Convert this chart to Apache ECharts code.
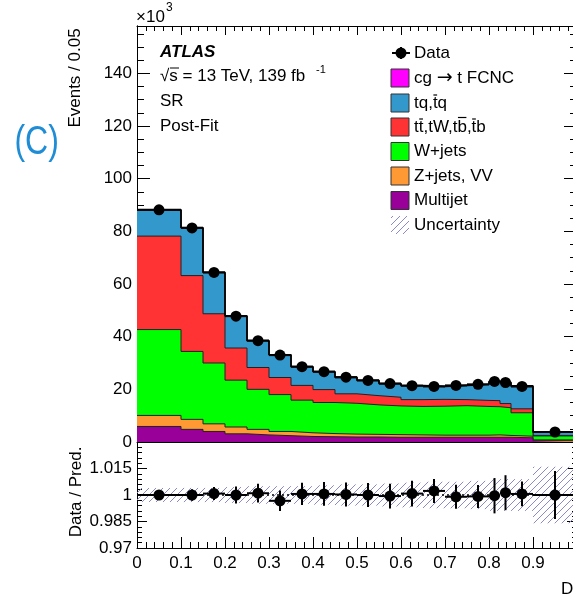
<!DOCTYPE html>
<html><head><meta charset="utf-8">
<script src="https://cdn.jsdelivr.net/npm/echarts@6/dist/echarts.min.js"></script>
<style>html,body{margin:0;padding:0;background:#fff}#c{width:573px;height:603px}</style>
</head><body><div id="c"></div><script>
// ---- data (x10^3 events / 0.05) ----
const binEdges = [0,0.1,0.15,0.2,0.25,0.3,0.35,0.4,0.45,0.5,0.55,0.6,0.65,0.7,0.75,0.8,0.825,0.85,0.9,1.0];
const multijet = [5.9,4.8,4.0,3.1,2.7,2.4,2.1,2.0,1.9,1.9,1.8,1.8,1.8,1.8,1.8,1.8,1.8,1.6,0.5];
const zjetsVV  = [4.2,3.8,2.9,2.6,2.1,1.6,1.4,1.2,1.1,1.0,1.0,0.9,0.8,0.8,0.8,0.9,0.7,0.6,0.3];
const wjets    = [32.6,25.8,23.1,17.8,15.2,14.0,12.4,11.8,11.7,11.2,10.9,10.8,11.0,11.2,10.9,10.7,10.5,8.9,1.5];
const ttbar    = [35.5,28.8,18.7,12.2,8.3,6.5,5.6,4.9,3.6,3.5,3.3,2.6,2.6,2.3,2.3,2.3,1.6,1.5,0.2];
const tqSingle = [10.0,18.2,15.7,12.2,10.2,8.6,7.1,6.8,6.3,5.8,5.2,5.3,4.9,5.4,6.1,7.3,8.0,8.4,1.3];
const fcnc     = [0,0,0,0,0,0,0,0,0,0,0,0,0,0,0,0,0,0.3,0];
const dataVals = [88.2,81.3,64.4,47.8,38.5,33.0,28.6,26.7,24.6,23.4,22.2,21.4,21.1,21.5,21.9,23.0,22.6,21.1,3.8];
const ratioVals = [1.000,1.000,1.0008,1.000,1.001,0.9967,1.0006,1.0006,1.0003,1.000,0.9994,1.0008,1.0023,0.999,0.9992,0.9996,1.0013,1.0006,1.000];
const ratioErr  = [0.0015,0.0033,0.0037,0.0048,0.0053,0.0058,0.0063,0.0067,0.0068,0.0068,0.007,0.0073,0.0068,0.0068,0.0065,0.010,0.0099,0.007,0.0136];
const uncBand   = [0.004,0.004,0.004,0.0045,0.005,0.005,0.005,0.0055,0.006,0.006,0.0065,0.007,0.0075,0.0075,0.008,0.009,0.009,0.009,0.016];
const legendLabels = ['Data','cg {arr|\u2192} t FCNC','tq,tq','tt,tW,tb,tb','W+jets','Z+jets, VV','Multijet','Uncertainty'];

const FONT = '"Liberation Sans", Arial, Helvetica, sans-serif';
const colors = {fcnc:'#ff00ff', tq:'#3399cc', tt:'#ff3333', w:'#00ff00', z:'#ff9933', mj:'#990099'};

// cumulative stack
const nb = dataVals.length;
const cum = [];
let run = new Array(nb).fill(0);
[multijet, zjetsVV, wjets, ttbar, tqSingle, fcnc].forEach(arr => {
  run = run.map((v,i)=>v+arr[i]);
  cum.push(run.slice());
});
function stepPts(tops){
  const pts=[];
  for(let i=0;i<nb;i++){pts.push([binEdges[i],tops[i]]);pts.push([binEdges[i+1],tops[i]]);}
  return pts;
}
const centers = binEdges.slice(0,-1).map((e,i)=>(e+binEdges[i+1])/2);

// hatch pattern
const hatch = document.createElement('canvas');
hatch.width=7;hatch.height=7;
(function(){const c=hatch.getContext('2d');c.strokeStyle='#8a8ac8';c.lineWidth=1;
 c.beginPath();c.moveTo(-1,8);c.lineTo(8,-1);c.moveTo(-1,1);c.lineTo(1,-1);c.moveTo(6,8);c.lineTo(8,6);c.stroke();})();

const chart = echarts.init(document.getElementById('c'), null, {renderer:'canvas'});
const black = {color:'#000', width:1};
function xAx(grid,pos,major,minor,labels){
  return {gridIndex:grid,type:'value',min:0,max:1,interval:0.1,position:pos,
    axisLine:{show:true,onZero:false,lineStyle:black},
    axisTick:{show:true,inside:true,length:major,lineStyle:black},
    minorTick:{show:true,splitNumber:5,length:minor,lineStyle:black},
    splitLine:{show:false},
    axisLabel:{show:labels,fontSize:17,fontFamily:FONT,color:'#000',margin:7,showMaxLabel:false,
      formatter:v=>String(parseFloat(v.toFixed(2)))}};
}
function yMain(pos,interval,len,labels){
  return {gridIndex:0,type:'value',min:0,max:158,interval:interval,position:pos,
    axisLine:{show:true,onZero:false,lineStyle:black},
    axisTick:{show:true,inside:true,length:len,lineStyle:black},
    splitLine:{show:false},
    axisLabel:{show:labels,fontSize:17,fontFamily:FONT,color:'#000',margin:5,showMaxLabel:false}};
}
function yRatio(pos,labels){
  return {gridIndex:1,type:'value',min:0.97,max:1.03,interval:0.015,position:pos,
    axisLine:{show:true,onZero:false,lineStyle:black},
    axisTick:{show:true,inside:true,length:10,lineStyle:black},
    minorTick:{show:true,splitNumber:5,length:5,lineStyle:black},
    splitLine:{show:false},
    axisLabel:{show:labels,fontSize:17,fontFamily:FONT,color:'#000',margin:5,showMaxLabel:false,
      formatter:v=>String(parseFloat(v.toFixed(3)))}};
}

const series=[];
// stacked fills, drawn from top level down
const levelDefs=[
  {tops:cum[5],color:colors.fcnc,lw:0},
  {tops:cum[4],color:colors.tq,lw:1},
  {tops:cum[3],color:colors.tt,lw:1},
  {tops:cum[2],color:colors.w,lw:1},
  {tops:cum[1],color:colors.z,lw:1},
  {tops:cum[0],color:colors.mj,lw:1}
];
levelDefs.forEach((l,k)=>{
  series.push({type:'line',xAxisIndex:0,yAxisIndex:0,data:stepPts(l.tops),symbol:'none',silent:true,animation:false,
    z:2+k*0.01,lineStyle:{color:'#222',width:l.lw},areaStyle:{color:l.color,opacity:1,origin:0}});
});
// total outline
series.push({type:'line',xAxisIndex:0,yAxisIndex:0,data:stepPts(cum[5]),symbol:'none',silent:true,animation:false,z:3,
  lineStyle:{color:'#000',width:1.8}});
// data x-error bars
series.push({type:'custom',xAxisIndex:0,yAxisIndex:0,z:4,animation:false,
  data:dataVals.map((v,i)=>[binEdges[i],binEdges[i+1],v]),
  renderItem:(p,api)=>{const a=api.coord([api.value(0),api.value(2)]),b=api.coord([api.value(1),api.value(2)]);
    return {type:'line',shape:{x1:a[0],y1:a[1],x2:b[0],y2:b[1]},style:{stroke:'#000',lineWidth:2}};}});
series.push({type:'scatter',xAxisIndex:0,yAxisIndex:0,z:5,animation:false,symbol:'circle',symbolSize:11,
  itemStyle:{color:'#000',opacity:1},data:dataVals.map((v,i)=>[centers[i],v])});

// ratio: uncertainty band
series.push({type:'custom',xAxisIndex:2,yAxisIndex:4,z:2,animation:false,
  data:uncBand.map((u,i)=>[binEdges[i],binEdges[i+1],u]),
  renderItem:(p,api)=>{const u=api.value(2);const a=api.coord([api.value(0),1+u]),b=api.coord([api.value(1),1-u]);
    return {type:'rect',shape:{x:a[0],y:a[1],width:b[0]-a[0],height:b[1]-a[1]},style:{fill:{image:hatch,repeat:'repeat'}}};}});
// reference line at 1
series.push({type:'line',xAxisIndex:2,yAxisIndex:4,z:3,animation:false,symbol:'none',silent:true,
  data:[[0,1],[1,1]],lineStyle:{color:'#000',width:1.5,type:[2,3]}});
// ratio error bars
series.push({type:'custom',xAxisIndex:2,yAxisIndex:4,z:4,animation:false,
  data:ratioVals.map((r,i)=>[binEdges[i],binEdges[i+1],r,ratioErr[i],centers[i]]),
  renderItem:(p,api)=>{const r=api.value(2),e=api.value(3),c=api.value(4);
    const a=api.coord([api.value(0),r]),b=api.coord([api.value(1),r]);
    const t=api.coord([c,r+e]),d=api.coord([c,r-e]);
    return {type:'group',children:[
      {type:'line',shape:{x1:a[0],y1:a[1],x2:b[0],y2:b[1]},style:{stroke:'#000',lineWidth:2}},
      {type:'line',shape:{x1:t[0],y1:t[1],x2:d[0],y2:d[1]},style:{stroke:'#000',lineWidth:2}}]};}});
series.push({type:'scatter',xAxisIndex:2,yAxisIndex:4,z:5,animation:false,symbol:'circle',symbolSize:11,
  itemStyle:{color:'#000',opacity:1},data:ratioVals.map((r,i)=>[centers[i],r])});

// ---- text / legend graphics ----
function txt(s,x,y,size,extra){
  return Object.assign({type:'text',x:x,y:y,silent:true,z:100,
    style:Object.assign({text:s,font:(extra&&extra.fontPrefix||'')+size+'px '+FONT,fill:'#000',
      align:'left',verticalAlign:'middle',textAlign:'left',textVerticalAlign:'middle',
      rich:{arr:{fontSize:19,fontFamily:'"DejaVu Sans"',fill:'#000'}}},extra&&extra.style||{})},extra&&extra.el||{});
}
const mctx=document.createElement('canvas').getContext('2d');
mctx.font='17px "Liberation Sans"';
function w(s){return mctx.measureText(s).width;}
function overline(str,idx,x0,y){
  const x1=x0+w(str.slice(0,idx)), x2=x0+w(str.slice(0,idx+1));
  return {type:'line',silent:true,z:100,shape:{x1:x1+0.5,y1:y,x2:x2-0.5,y2:y},style:{stroke:'#000',lineWidth:1.2}};
}
const LX=414, BX=391;
const rows=[53,78,103,127,151.5,176,200.5,225];
const g=[];
g.push(txt('\u00d710',136,17,17));
g.push(txt('3',166,8,12));
g.push(txt('ATLAS',160,52,17,{fontPrefix:'italic bold '}));
g.push(txt('\u221as = 13 TeV, 139 fb',160,76,17));
g.push({type:'line',silent:true,z:100,shape:{x1:170,y1:68,x2:179,y2:68},style:{stroke:'#000',lineWidth:1}});
g.push(txt('-1',316,70,11));
g.push(txt('SR',160,101,17));
g.push(txt('Post-Fit',160,126,17));
g.push(txt('(C)',12,143,40,{style:{fill:'#1f8dd6'},el:{scaleX:0.8,originX:12,originY:143}}));
g.push(txt('Events / 0.05',0,0,17,{style:{align:'center',textAlign:'center'},el:{x:75,y:78,rotation:Math.PI/2}}));
g.push(txt('Data / Pred.',0,0,17,{style:{align:'center',textAlign:'center'},el:{x:76,y:492,rotation:Math.PI/2}}));
g.push(txt('D',561,589,17));
// legend
g.push({type:'line',silent:true,z:100,shape:{x1:392,y1:rows[0],x2:410,y2:rows[0]},style:{stroke:'#000',lineWidth:2}});
g.push({type:'line',silent:true,z:100,shape:{x1:401,y1:rows[0]-6,x2:401,y2:rows[0]+6},style:{stroke:'#000',lineWidth:2}});
g.push({type:'circle',silent:true,z:100,shape:{cx:401,cy:rows[0],r:5.5},style:{fill:'#000'}});
const boxCols=[colors.fcnc,colors.tq,colors.tt,colors.w,colors.z,colors.mj];
boxCols.forEach((c,i)=>{
  g.push({type:'rect',silent:true,z:100,shape:{x:BX,y:rows[i+1]-9,width:18,height:18},style:{fill:c,stroke:'#333',lineWidth:1}});
});
g.push({type:'rect',silent:true,z:100,shape:{x:BX,y:rows[7]-9,width:18,height:18},style:{fill:{image:hatch,repeat:'repeat'}}});
legendLabels.forEach((s,i)=>g.push(txt(s,LX,rows[i],17)));
const oy=(r)=>r-8;
g.push(overline('tq,tq',3,LX,oy(rows[2])));
g.push(overline('tt,tW,tb,tb',1,LX,oy(rows[3])));
g.push(overline('tt,tW,tb,tb',7,LX,oy(rows[3])-1.5));
g.push(overline('tt,tW,tb,tb',9,LX,oy(rows[3])));

chart.setOption({
  animation:false,
  backgroundColor:'#fff',
  grid:[{left:137,top:26,width:440,height:416,outerBoundsMode:'none',containLabel:false},
        {left:137,top:442,width:440,height:106,outerBoundsMode:'none',containLabel:false}],
  xAxis:[xAx(0,'bottom',12,6,false),xAx(0,'top',9,5,false),xAx(1,'bottom',11,6,true)],
  yAxis:[yMain('left',20,13,true),yMain('left',5,7,false),yMain('right',20,13,false),yMain('right',5,7,false),
         yRatio('left',true),yRatio('right',false)],
  series:series,
  graphic:g
});
</script></body></html>
